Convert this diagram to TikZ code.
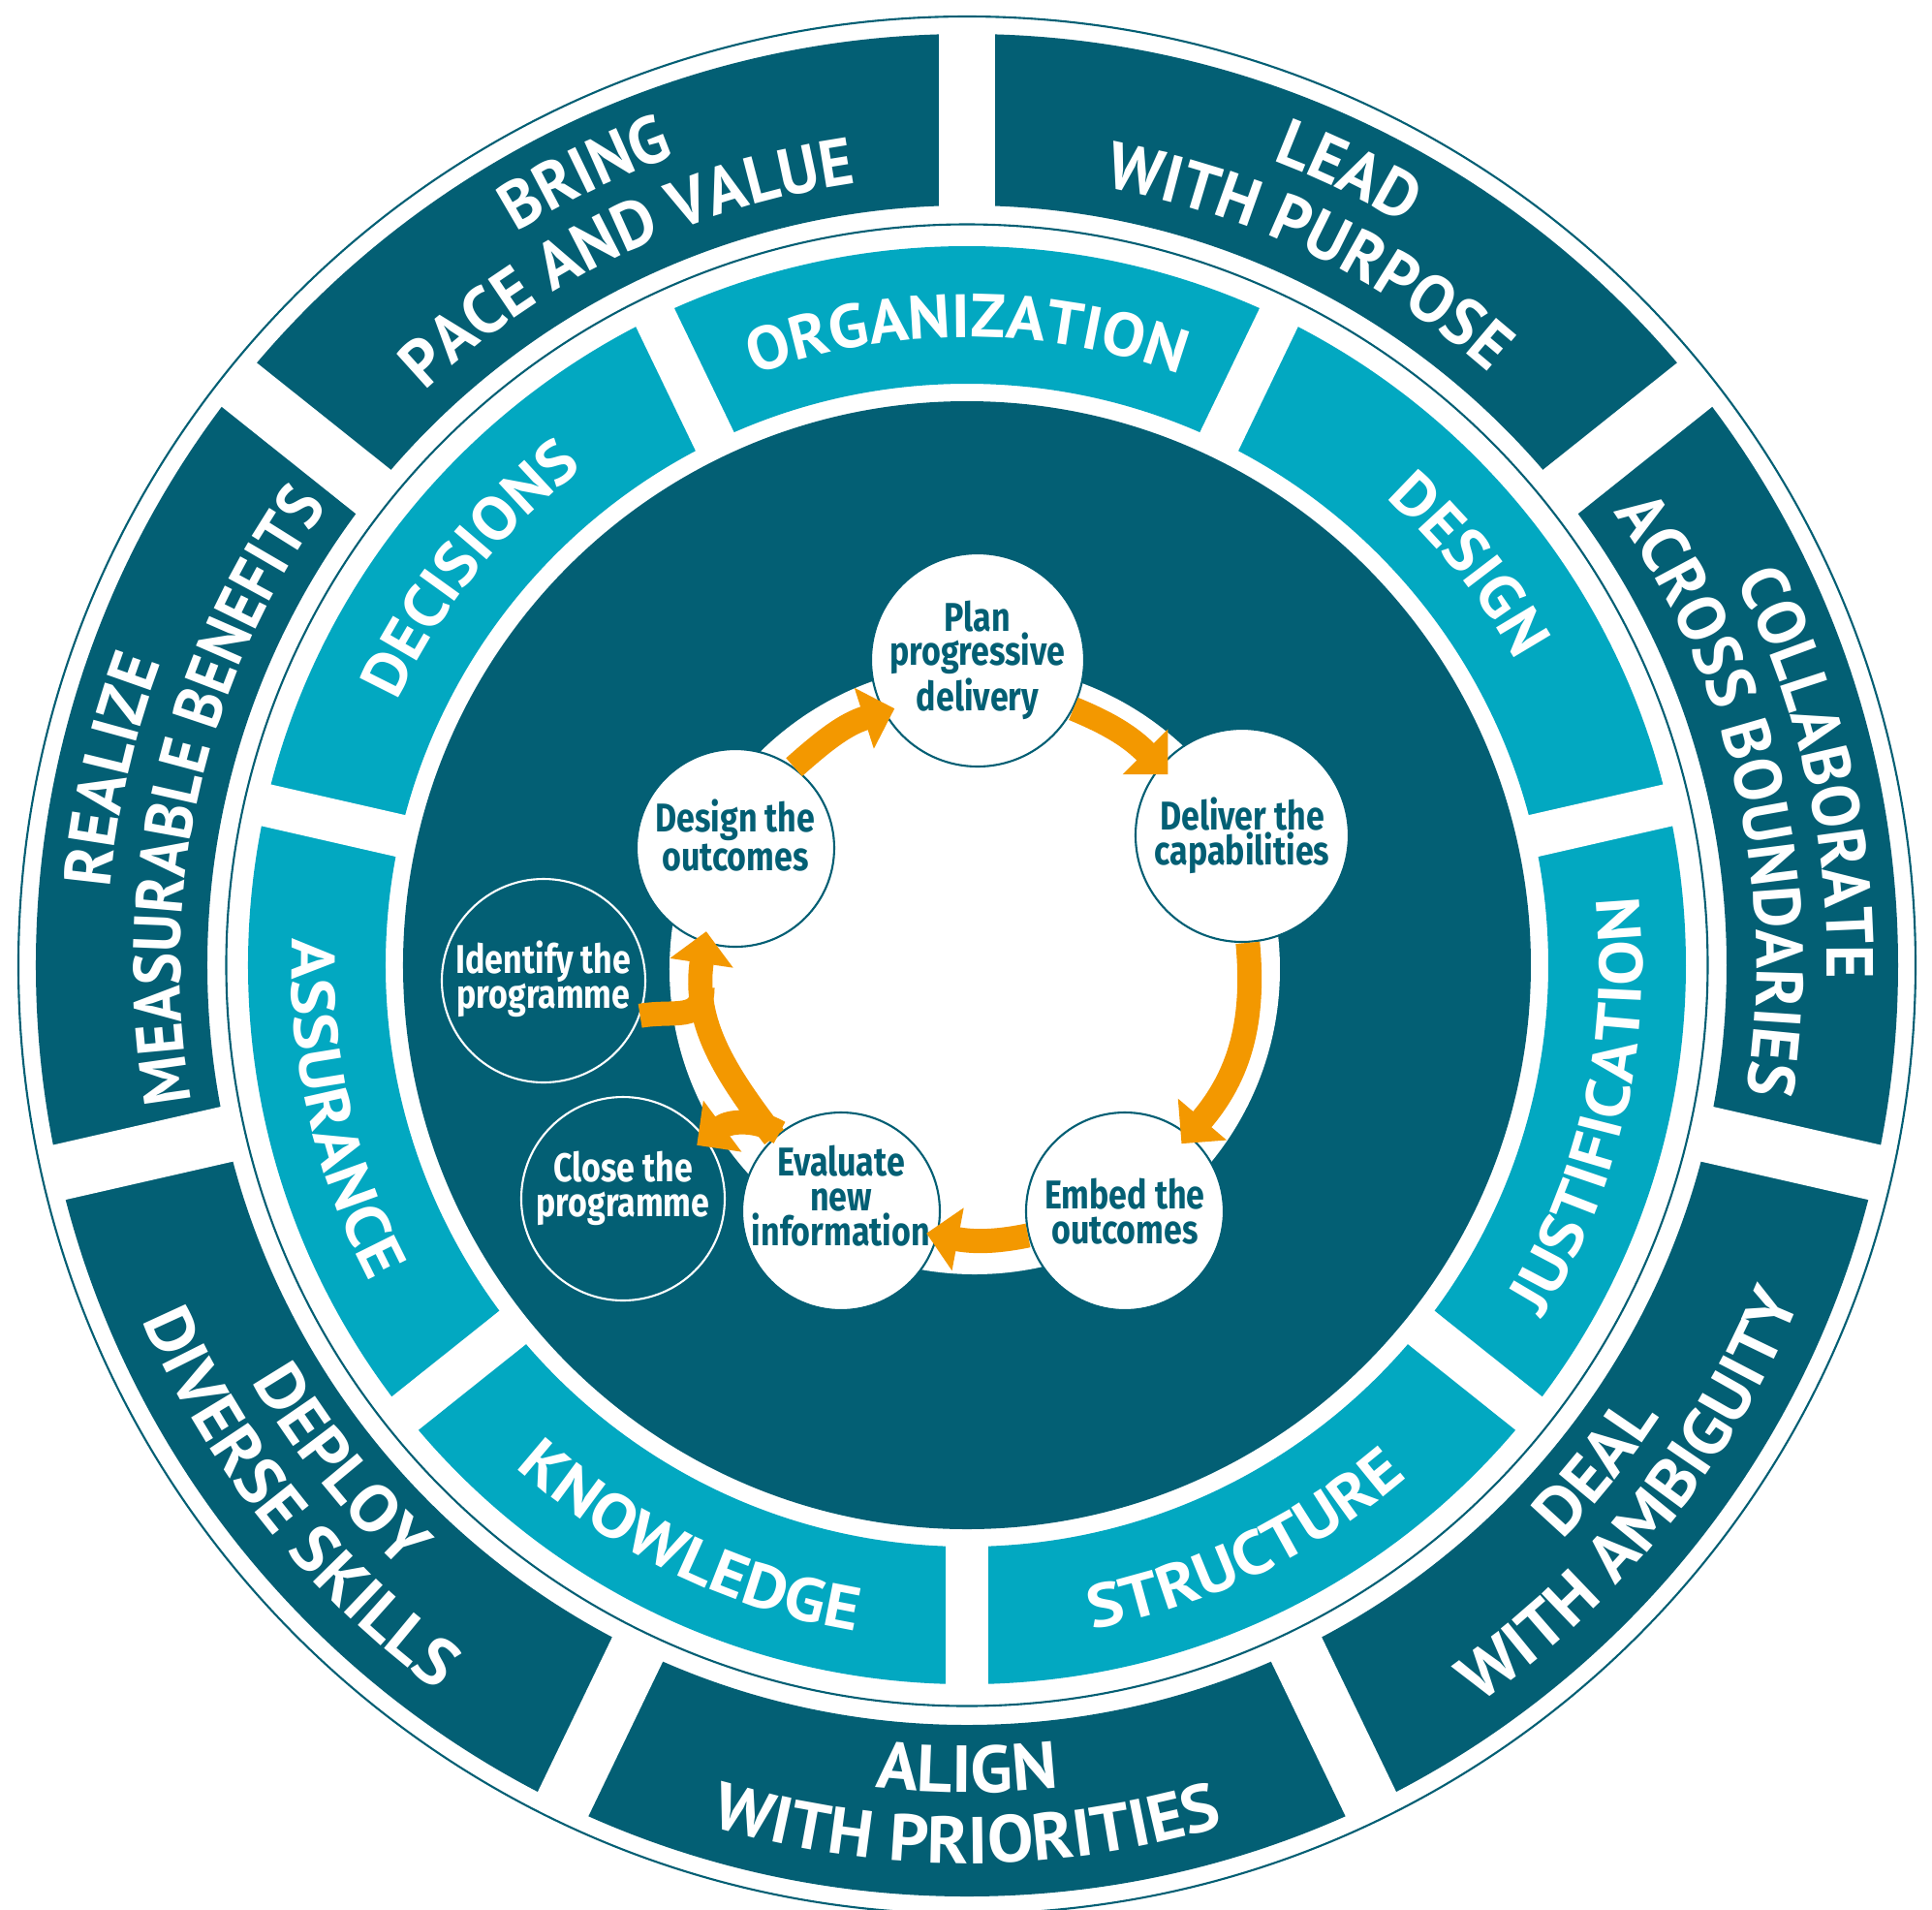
\documentclass[tikz,border=0pt]{standalone}
\usepackage{fontspec}
\usetikzlibrary{arrows.meta, decorations.text}
\newfontfamily\ringfont{PT Sans}[FakeStretch=0.97]
\newfontfamily\ringtightfont{PT Sans}[FakeStretch=0.91]
\newfontfamily\ringwidefont{PT Sans}[FakeStretch=1.04]
\newfontfamily\bandfont{PT Sans}[FakeStretch=1.05]
\newfontfamily\bandwidefont{PT Sans}[FakeStretch=1.11]
\newfontfamily\stepfont{Fira Sans}[FakeStretch=0.82]
\newcommand\outerfont{\ringfont\bfseries\fontsize{19.5}{19.5}\selectfont}
\newcommand\outertightfont{\ringtightfont\bfseries\fontsize{19.5}{19.5}\selectfont}
\newcommand\outerwidefont{\ringwidefont\bfseries\fontsize{19.5}{19.5}\selectfont}
\newcommand\innerfont{\bandfont\bfseries\fontsize{18}{18}\selectfont}
\newcommand\innerwidefont{\bandwidefont\bfseries\fontsize{18}{18}\selectfont}
\definecolor{petrol}{HTML}{035F74}
\definecolor{aqua}{HTML}{02A8C1}
\definecolor{amber}{HTML}{F39800}
\tikzset{
  outertext/.style={decorate, decoration={text along path, text align=center, text={|\color{white}\outerfont|#1}}},
  outertight/.style={decorate, decoration={text along path, text align=center, text={|\color{white}\outertightfont|#1}}},
  outerlow/.style={decorate, decoration={text along path, text align=center, text={|\color{white}\outerwidefont|#1}}},
  innertext/.style={decorate, decoration={text along path, text align=center, text={|\color{white}\innerfont|#1}}},
  innerlow/.style={decorate, decoration={text along path, text align=center, text={|\color{white}\innerwidefont|#1}}},
  stage/.style={circle, draw=petrol, fill=white, line width=0.6pt, text=petrol, align=center, inner sep=-3mm, font=\stepfont\bfseries\fontsize{11.8}{10.2}\selectfont},
  endstage/.style={stage, draw=white, fill=petrol, text=white},
  flow/.style={amber, line width=2.5mm, -{Triangle[width=6.4mm, length=3.3mm]}, shorten >=-1.2mm},
  flowline/.style={amber, line width=2.5mm},
  thinring/.style={petrol, line width=0.6pt},
}

\begin{document}
\begin{tikzpicture}
    \useasboundingbox (-9.98,-9.74) rectangle (9.96,9.96);
    % rings
    \draw[thinring] (0,0) circle (9.79);
    \fill[petrol, even odd rule] (0,0) circle (9.61) circle (7.84);
    \foreach \k in {0,...,6}
        \draw[white, line width=5.8mm] ({90+\k*360/7}:7.75) -- ({90+\k*360/7}:9.7);
    \draw[thinring] (0,0) circle (7.645);
    \fill[aqua, even odd rule] (0,0) circle (7.42) circle (6);
    \foreach \k in {0,...,6}
        \draw[white, line width=4.4mm] ({90+180/7+\k*360/7}:5.9) -- ({90+180/7+\k*360/7}:7.53);
    \fill[petrol] (0,0) circle (5.82);
    \fill[white] (0.08,-0.04) circle (3.15);

    % outer ring texts
    \path[outertext={BRING}] (141.43:8.88) arc[start angle=141.43, end angle=90, radius=8.88];
    \path[outertext={PACE AND VALUE}] (141.43:8.15) arc[start angle=141.43, end angle=90, radius=8.15];
    \path[outertext={LEAD}] (90:8.88) arc[start angle=90, end angle=38.57, radius=8.88];
    \path[outertext={WITH PURPOSE}] (90:8.15) arc[start angle=90, end angle=38.57, radius=8.15];
    \path[outertext={COLLABORATE}] (38.57:8.88) arc[start angle=38.57, end angle=-12.86, radius=8.88];
    \path[outertext={ACROSS BOUNDARIES}] (38.57:8.15) arc[start angle=38.57, end angle=-12.86, radius=8.15];
    \path[outertext={REALIZE}] (192.86:8.88) arc[start angle=192.86, end angle=141.43, radius=8.88];
    \path[outertight={MEASURABLE BENEFITS}] (192.86:8.12) arc[start angle=192.86, end angle=141.43, radius=8.12];
    \path[outerlow={DEAL}] (-64.29:8.54) arc[start angle=-64.29, end angle=-12.86, radius=8.54];
    \path[outerlow={WITH AMBIGUITY}] (-64.29:9.27) arc[start angle=-64.29, end angle=-12.86, radius=9.27];
    \path[outerlow={ALIGN}] (-115.71:8.54) arc[start angle=-115.71, end angle=-64.29, radius=8.54];
    \path[outerlow={WITH PRIORITIES}] (-115.71:9.27) arc[start angle=-115.71, end angle=-64.29, radius=9.27];
    \path[outerlow={DEPLOY}] (-167.14:8.54) arc[start angle=-167.14, end angle=-115.71, radius=8.54];
    \path[outerlow={DIVERSE SKILLS}] (-167.14:9.27) arc[start angle=-167.14, end angle=-115.71, radius=9.27];

    % middle ring texts
    \path[innertext={ORGANIZATION}] (115.71:6.48) arc[start angle=115.71, end angle=64.29, radius=6.48];
    \path[innertext={DESIGN}] (64.29:6.48) arc[start angle=64.29, end angle=12.86, radius=6.48];
    \path[innertext={DECISIONS}] (167.14:6.48) arc[start angle=167.14, end angle=115.71, radius=6.48];
    \path[innerlow={JUSTIFICATION}] (-38.57:6.97) arc[start angle=-38.57, end angle=12.86, radius=6.97];
    \path[innerlow={STRUCTURE}] (-90:6.97) arc[start angle=-90, end angle=-38.57, radius=6.97];
    \path[innerlow={KNOWLEDGE}] (-141.43:6.97) arc[start angle=-141.43, end angle=-90, radius=6.97];
    \path[innerlow={ASSURANCE}] (-192.86:6.97) arc[start angle=-192.86, end angle=-141.43, radius=6.97];

    % stages
    \node[stage, minimum size=2.2cm] (plan) at (0.11,3.15) {Plan\\progressive\\delivery};
    \node[stage, minimum size=2.2cm] (deliver) at (2.84,1.34) {Deliver the\\capabilities};
    \node[stage, minimum size=2.04cm] (embed) at (1.63,-2.54) {Embed the\\outcomes};
    \node[stage, minimum size=2.04cm] (evaluate) at (-1.30,-2.54) {Evaluate\\new\\information\rule[-3.2mm]{0pt}{0pt}};
    \node[stage, minimum size=2.04cm] (design) at (-2.39,1.21) {Design the\\outcomes\rule[-2.6mm]{0pt}{0pt}};
    \node[endstage, minimum size=2.1cm] (identify) at (-4.37,-0.16) {Identify the\\programme\rule[-1.2mm]{0pt}{0pt}};
    \node[endstage, minimum size=2.1cm] (close) at (-3.55,-2.41) {Close the\\programme\rule[-3mm]{0pt}{0pt}};

    % cycle
    \draw[flow] (design.54) to[out=41.5, in=197.7] (plan.209);
    \draw[flow] (plan.-27) to[out=-22.4, in=134.9] (deliver.140);
    \draw[flow] (deliver.-87) to[out=-84.7, in=49.5] (embed.50);
    \draw[flow] (embed.194) to[out=191.5, in=-10.6] (evaluate.-14);
    \draw[flow] (evaluate.132) to[out=127.4, in=261.5] coordinate[pos=0.8] (merge) (design.252);
    \draw[flowline] (identify.-20) to[out=10, in=-90, looseness=1.3] (merge);
    \draw[flow] (evaluate.128) to[out=150, in=36.7] (close.36);
\end{tikzpicture}
\end{document}
